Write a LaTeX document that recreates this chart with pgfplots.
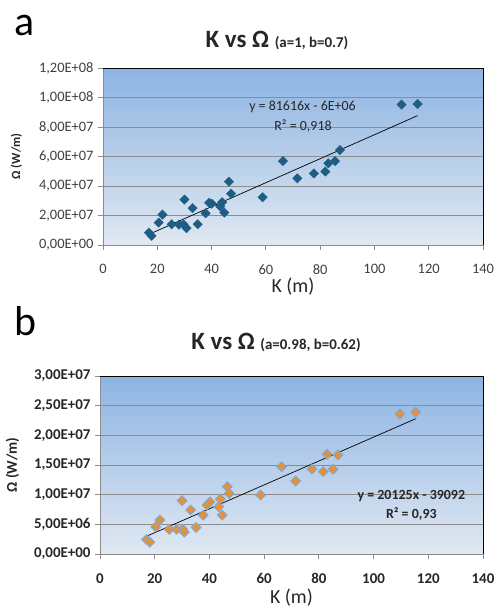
\documentclass[border=0pt]{standalone}
\usepackage{pgfplots}
\pgfplotsset{compat=1.18}
\usepackage{fontspec}
\setmainfont{Carlito}
\definecolor{bgtop}{RGB}{141,180,226}
\definecolor{bgbot}{RGB}{224,232,242}
\definecolor{mblue}{RGB}{30,94,132}
\definecolor{morange}{RGB}{230,145,56}
\definecolor{medge}{RGB}{120,170,220}
\definecolor{gridc}{RGB}{140,140,140}
\definecolor{txt}{RGB}{64,64,64}
\definecolor{txtb}{RGB}{38,38,38}

\pgfplotstableread{
x y
16.9 8.4e6
17.9 6.2e6
20.5 1.52e7
21.9 2.06e7
25.3 1.40e7
28.0 1.38e7
29.7 1.40e7
30.0 3.08e7
30.8 1.14e7
33.0 2.50e7
34.9 1.41e7
37.8 2.15e7
39.1 2.86e7
40.1 2.80e7
43.2 2.62e7
43.9 2.90e7
44.7 2.20e7
46.4 4.29e7
47.2 3.48e7
58.8 3.24e7
66.3 5.69e7
71.6 4.52e7
77.7 4.85e7
81.9 4.98e7
83.0 5.54e7
85.5 5.69e7
87.3 6.44e7
110.0 9.52e7
115.9 9.56e7
}\dataA

\pgfplotstableread{
x y
17.0 2.45e6
18.2 2.0e6
20.4 4.58e6
21.9 5.73e6
25.3 4.16e6
28.0 4.16e6
30.0 9.0e6
30.2 4.2e6
30.8 3.7e6
33.1 7.42e6
35.1 4.47e6
37.7 6.55e6
39.1 8.23e6
40.2 8.77e6
43.4 7.98e6
44.0 9.27e6
44.7 6.55e6
46.5 1.135e7
47.2 1.02e7
58.7 9.94e6
66.4 1.47e7
71.5 1.23e7
77.5 1.43e7
81.6 1.39e7
83.0 1.68e7
85.2 1.43e7
87.0 1.67e7
109.6 2.36e7
115.4 2.39e7
}\dataB

\pgfplotsset{
 mystyle/.style={
  scale only axis,
  xmin=0, xmax=140, xtick={0,20,...,140},
  axis x line*=bottom, axis y line*=left,
  axis line style={gridc, line width=0.8bp},
  tick align=outside, major tick length=5bp,
  tick style={gridc, line width=0.8bp},
  ymajorgrids, grid style={gridc, line width=0.8bp},
  axis background/.style={top color=bgtop, bottom color=bgbot},
  scaled y ticks=false, scaled x ticks=false,
  /pgf/number format/assume math mode=true,
  xticklabel shift=11bp, yticklabel shift=1bp,
  clip=false,
 }}

\begin{document}
\begin{tikzpicture}
\useasboundingbox (0,0) rectangle (495bp,-609bp);

% panel letters and titles
\node[anchor=base west, inner sep=0, font=\fontsize{42}{46}\selectfont] at (14bp,-35bp) {a};
\node[anchor=base, inner sep=0, font=\bfseries\fontsize{25}{29}\selectfont, text=txtb] at (277bp,-47bp) {K vs Ω {\fontsize{15}{17}\selectfont(a=1, b=0.7)}};
\node[anchor=base west, inner sep=0, font=\fontsize{42}{46}\selectfont] at (14bp,-335bp) {b};
\node[anchor=base, inner sep=0, font=\bfseries\fontsize{25}{29}\selectfont, text=txtb] at (276bp,-349bp) {K vs Ω {\fontsize{15}{17}\selectfont(a=0.98, b=0.62)}};

% ---------- panel a ----------
\begin{axis}[mystyle,
  at={(103bp,-245bp)}, anchor=south west,
  width=380bp, height=177bp,
  ymin=0, ymax=1.2e8,
  ytick={0,2e7,4e7,6e7,8e7,1e8,1.2e8},
  yticklabels={{0,00E+00},{2,00E+07},{4,00E+07},{6,00E+07},{8,00E+07},{1,00E+08},{1,20E+08}},
  ticklabel style={font=\fontsize{14.5}{16}\selectfont, text=txt},
  xlabel={K (m)},
  xlabel style={at={(axis description cs:0.5,-0.237)}, anchor=center, font=\fontsize{20}{24}\selectfont, text=txtb},
  ylabel={Ω (W/m)},
  ylabel style={at={(axis description cs:-0.2276,0.5)}, anchor=center, font=\bfseries\fontsize{12.5}{15}\selectfont, text=txtb},
]
\addplot[only marks, mark=square*, mark size=3.3bp, mark options={rotate=45, fill=mblue, draw=mblue}] table[x=x,y=y] {\dataA};
\addplot[black, line width=0.7bp] coordinates {(16.9,7.2e6) (115.9,8.77e7)};
\node[font=\fontsize{14}{16}\selectfont, text=txtb] at (axis cs:73.5,9.38e7) {y = 81616x - 6E+06};
\node[font=\fontsize{14}{16}\selectfont, text=txtb] at (axis cs:73.7,8.07e7) {R² = 0,918};
\draw[black, line width=0.8bp] (rel axis cs:0,1) -- (rel axis cs:1,1) -- (rel axis cs:1,0);
\end{axis}

% ---------- panel b ----------
\begin{axis}[mystyle,
  at={(100bp,-554bp)}, anchor=south west,
  width=383bp, height=178bp,
  ymin=0, ymax=3e7,
  ytick={0,5e6,1e7,1.5e7,2e7,2.5e7,3e7},
  yticklabels={{0,00E+00},{5,00E+06},{1,00E+07},{1,50E+07},{2,00E+07},{2,50E+07},{3,00E+07}},
  ticklabel style={font=\bfseries\fontsize{15}{17}\selectfont, text=txtb},
  xlabel={K (m)},
  xlabel style={at={(axis description cs:0.5,-0.245)}, anchor=center, font=\fontsize{20}{24}\selectfont, text=txtb},
  ylabel={Ω (W/m)},
  ylabel style={at={(axis description cs:-0.2285,0.5)}, anchor=center, font=\bfseries\fontsize{15}{18}\selectfont, text=txtb},
]
\addplot[only marks, mark=square*, mark size=3.5bp, mark options={rotate=45, fill=morange, draw=medge, line width=0.8bp}] table[x=x,y=y] {\dataB};
\addplot[black, line width=0.7bp] coordinates {(16.8,2.95e6) (115.4,2.28e7)};
\node[font=\bfseries\fontsize{14}{16}\selectfont, text=txtb] at (axis cs:113.8,9.78e6) {y = 20125x - 39092};
\node[font=\bfseries\fontsize{14}{16}\selectfont, text=txtb] at (axis cs:113.8,6.74e6) {R² = 0,93};
\draw[black, line width=0.8bp] (rel axis cs:0,1) -- (rel axis cs:1,1) -- (rel axis cs:1,0);
\end{axis}
\end{tikzpicture}
\end{document}
